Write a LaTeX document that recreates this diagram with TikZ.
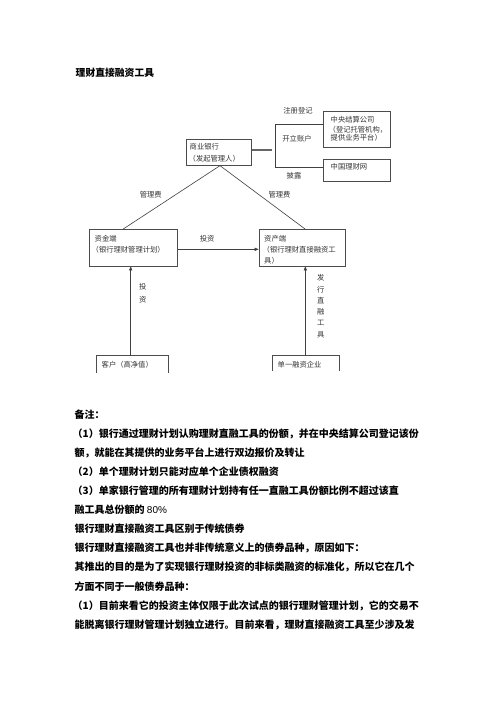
\documentclass[tikz,border=0pt]{standalone}
\usepackage{fontspec}
\setmainfont{Liberation Sans}
\newfontfamily\cjk{Noto Sans CJK SC}
\usetikzlibrary{arrows.meta}
\begin{document}
\begin{tikzpicture}[x=1pt,y=-1pt,
  box/.style={draw=black!70, line width=0.7pt, inner sep=0pt},
  openbox/.style={draw=none, inner sep=0pt},
  lbl/.style={font=\cjk\fontsize{7.3}{8}\selectfont, text=black!80, inner sep=0pt, anchor=west},
  lblc/.style={font=\cjk\fontsize{7.3}{8}\selectfont, text=black!80, inner sep=0pt, anchor=center},
  vlbl/.style={text=black!80, inner sep=0pt, anchor=center, align=center},
  body/.style={font=\cjk\bfseries\fontsize{10}{12}\selectfont, inner sep=0pt, anchor=west},
  conn/.style={draw=black!75, line width=0.6pt},
  arr/.style={draw=black!75, line width=0.6pt, -{Triangle[length=4pt,width=3.2pt]}},
  thickconn/.style={draw=black!60, line width=2pt}
]
\fill[white] (0,0) rectangle (496,702);
\useasboundingbox (0,0) rectangle (496,702);

% title
\node[body, font=\cjk\bfseries\fontsize{9.8}{12}\selectfont] (title) at (75.5,72.3) {理财直接融资工具};

% boxes
\node[box, minimum width=65pt, minimum height=26pt] (bank) at (219.2,152.3) {};
\node[box, minimum width=67.7pt, minimum height=35.6pt] (csdc) at (356.85,129.5) {};
\node[box, minimum width=67.7pt, minimum height=22.4pt] (cwm) at (356.85,170.5) {};
\node[box, minimum width=88.7pt, minimum height=36.7pt] (fund) at (133.35,247.65) {};
\node[box, minimum width=86.7pt, minimum height=36.7pt] (asset) at (302.35,247.65) {};
\node[openbox, minimum width=71pt, minimum height=17.3pt] (client) at (132.2,364.35) {};
\node[openbox, minimum width=66.3pt, minimum height=15.3pt] (firm) at (305.85,363.35) {};
\draw[box] (client.south west) -- (client.north west) -- (client.north east) -- (client.south east);
\draw[box] (firm.south west) -- (firm.north west) -- (firm.north east) -- (firm.south east);

% box texts
\node[lbl] (bank1) at (189.5,146.7) {商业银行};
\node[lbl] (bank2) at (188.5,158.7) {（发起管理人）};
\node[lbl] (csdc1) at (330.5,120) {中央结算公司};
\node[lbl] (csdc2) at (328.5,129.3) {（登记托管机构，};
\node[lbl] (csdc3) at (330.5,137.9) {提供业务平台）};
\node[lbl] (cwm1) at (330.5,166.7) {中国理财网};
\node[lbl] (fund1) at (94.5,238.3) {资金端};
\node[lbl] (fund2) at (91.5,249.3) {（银行理财管理计划）};
\node[lbl] (asset1) at (264,238.3) {资产端};
\node[lbl] (asset2) at (262.5,249.3) {（银行理财直接融资工};
\node[lbl] (asset3) at (264,260.3) {具）};
\node[lbl] (client1) at (101.5,364.3) {客户（高净值）};
\node[lbl] (firm1) at (277.5,364.3) {单一融资企业};

% connectors
\coordinate (br) at (271.5,150.3);
\coordinate (bt) at (275.3,124.3);
\coordinate (bb) at (275.3,167.7);
\draw[thickconn] (bank.east |- br) -- (br);
\draw[conn] (bt -| csdc.west) -- (bt) -- (bb) -- (bb -| cwm.west);
\draw[conn] ([xshift=0.8pt]bank.south) -- ([xshift=-10.05pt]fund.north);
\draw[conn] ([xshift=0.8pt]bank.south) -- ([xshift=2.65pt]asset.north);
\draw[arr] ([yshift=-1.65pt]fund.east) -- ([yshift=-1.65pt]asset.west);
\draw[arr] ([xshift=-1.5pt]client.north) -- ([xshift=-1.5pt]client.north |- fund.south);
\draw[arr] ([xshift=-0.5pt]firm.north) -- ([xshift=-0.5pt]firm.north |- asset.south);

% connector labels
\node[lblc] (reg) at (298,110.7) {注册登记};
\node[lblc] (open) at (297,138.3) {开立账户};
\node[lblc] (disc) at (294,176) {披露};
\node[lblc] (fee1) at (150.7,194.7) {管理费};
\node[lblc] (fee2) at (279.5,194.5) {管理费};
\node[lblc] (inv1) at (207.2,238.3) {投资};
\node[vlbl, font=\cjk\fontsize{7.3}{12.6}\selectfont] (inv2) at (142.7,293) {投\\资};
\node[vlbl, font=\cjk\fontsize{7.3}{11.3}\selectfont] (issue) at (320.7,306.2) {发\\行\\直\\融\\工\\具};

% body text
\node[body] (n0) at (74.5,414.3) {备注：};
\node[body] (n1) at (72.5,433.5) {（1）银行通过理财计划认购理财直融工具的份额，并在中央结算公司登记该份};
\node[body] (n2) at (74.5,452.7) {额，就能在其提供的业务平台上进行双边报价及转让};
\node[body] (n3) at (72.5,471.8) {（2）单个理财计划只能对应单个企业债权融资};
\node[body] (n4) at (72.5,490.9) {（3）单家银行管理的所有理财计划持有任一直融工具份额比例不超过该直};
\node[body] (n5) at (74.5,510) {融工具总份额的 {\mdseries\fontspec{Liberation Sans}80\%}};
\node[body] (n6) at (74.5,529.1) {银行理财直接融资工具区别于传统债券};
\node[body] (n7) at (74.5,548.2) {银行理财直接融资工具也并非传统意义上的债券品种，原因如下：};
\node[body] (n8) at (74.5,567.3) {其推出的目的是为了实现银行理财投资的非标类融资的标准化，所以它在几个};
\node[body] (n9) at (74.5,586.4) {方面不同于一般债券品种：};
\node[body] (n10) at (72.5,605.5) {（1）目前来看它的投资主体仅限于此次试点的银行理财管理计划，它的交易不};
\node[body] (n11) at (74.5,624.6) {能脱离银行理财管理计划独立进行。目前来看，理财直接融资工具至少涉及发};
\end{tikzpicture}
\end{document}
